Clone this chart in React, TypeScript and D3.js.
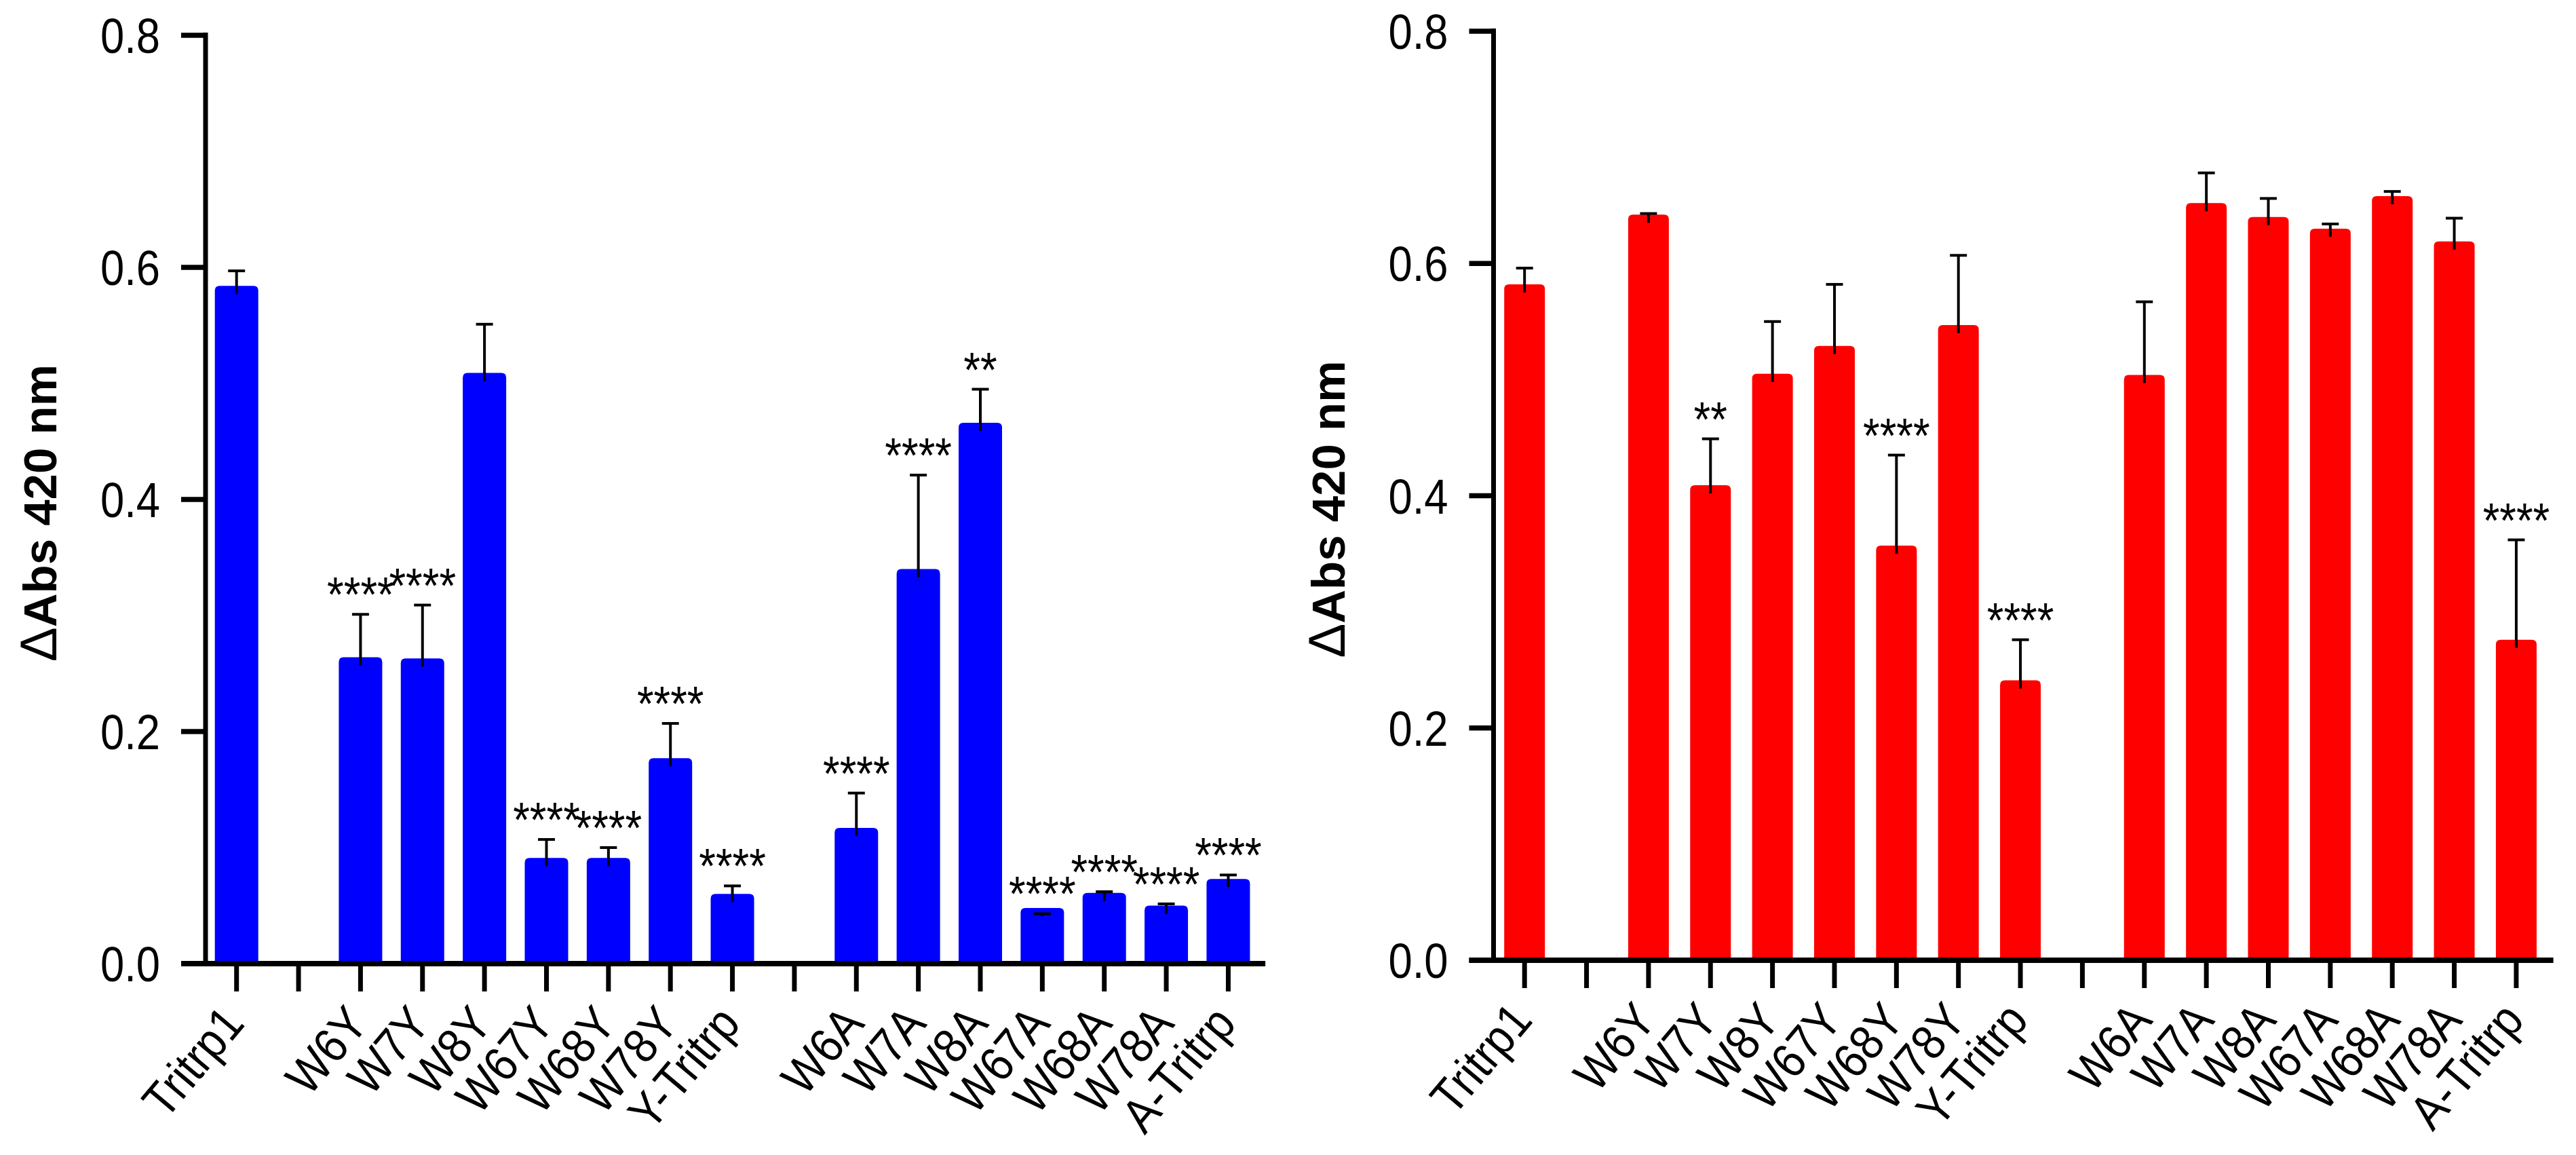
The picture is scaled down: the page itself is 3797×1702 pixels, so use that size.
import React from 'react';
import * as d3 from 'd3';

// categories ('' = empty slot between groups)
const categories = [
    'Tritrp1', '', 'W6Y', 'W7Y', 'W8Y', 'W67Y', 'W68Y', 'W78Y', 'Y-Tritrp',
    '', 'W6A', 'W7A', 'W8A', 'W67A', 'W68A', 'W78A', 'A-Tritrp',
];

// left panel (blue)
const blueMeans = [
    0.577, null, 0.257, 0.256, 0.502, 0.084, 0.084, 0.17, 0.053,
    null, 0.11, 0.333, 0.459, 0.041, 0.054, 0.043, 0.066,
];
const blueErrors = [
    0.02, null, 0.044, 0.053, 0.049, 0.023, 0.016, 0.037, 0.014,
    null, 0.037, 0.088, 0.036, 0.002, 0.008, 0.0085, 0.0104,
];
const blueStars = [
    '', '', '****', '****', '', '****', '****', '****', '****',
    '', '****', '****', '**', '****', '****', '****', '****',
];

// right panel (red)
const redMeans = [
    0.575, null, 0.635, 0.402, 0.498, 0.522, 0.35, 0.54, 0.234,
    null, 0.497, 0.645, 0.633, 0.623, 0.651, 0.612, 0.269,
];
const redErrors = [
    0.021, null, 0.008, 0.047, 0.052, 0.06, 0.085, 0.067, 0.042,
    null, 0.07, 0.033, 0.023, 0.011, 0.011, 0.027, 0.093,
];
const redStars = [
    '', '', '', '**', '', '', '****', '', '****',
    '', '', '', '', '', '', '', '****',
];

const yTicks = [0, 0.2, 0.4, 0.6, 0.8];

const FONT = '"Liberation Sans", Arial, sans-serif';
const SQUEEZE = 0.88; // the figure's text is slightly condensed
const STEP = 91.36;

interface PanelProps {
    axisX: number;
    zeroY: number;
    topY: number;
    color: string;
    barWidth: number;
    means: (number | null)[];
    errors: (number | null)[];
    stars: string[];
}

const topRounded = (x0: number, y0: number, w: number, h: number, r: number) =>
    `M${x0},${y0 + h}V${y0 + r}Q${x0},${y0} ${x0 + r},${y0}H${x0 + w - r}` +
    `Q${x0 + w},${y0} ${x0 + w},${y0 + r}V${y0 + h}Z`;

const Panel: React.FC<PanelProps> = ({
    axisX, zeroY, topY, color, barWidth, means, errors, stars,
}) => {
    const x = d3
        .scaleBand<number>()
        .domain(d3.range(categories.length))
        .range([axisX, axisX + categories.length * STEP])
        .padding(0);
    const y = d3.scaleLinear().domain([0, 0.8]).range([zeroY, topY]);
    const fmt = d3.format('.1f');
    const cx = (i: number) => (x(i) as number) + x.bandwidth() / 2;
    const axisEnd = axisX + categories.length * STEP + 9;

    return (
        <g>
            {/* bars */}
            {means.map((m, i) =>
                m == null ? null : (
                    <path
                        key={'b' + i}
                        d={topRounded(cx(i) - barWidth / 2, y(m) - 12, barWidth, zeroY - y(m) + 12, 7)}
                        fill={color}
                    />
                ),
            )}
            {/* error bars */}
            {means.map((m, i) => {
                if (m == null) return null;
                const e = errors[i] as number;
                const yc = y(m + e);
                return (
                    <g key={'e' + i} stroke="#000" strokeWidth={4}>
                        <line x1={cx(i)} x2={cx(i)} y1={y(m)} y2={yc} />
                        <line x1={cx(i) - 12.5} x2={cx(i) + 12.5} y1={yc} y2={yc} />
                    </g>
                );
            })}
            {/* significance */}
            {means.map((m, i) =>
                m == null || !stars[i] ? null : (
                    <text
                        key={'s' + i}
                        transform={`translate(${cx(i)},${y(m + (errors[i] as number)) - 4}) scale(${SQUEEZE},1)`}
                        textAnchor="middle"
                        fontFamily={FONT}
                        fontSize={72}
                    >
                        {stars[i]}
                    </text>
                ),
            )}
            {/* y axis */}
            <line x1={axisX} x2={axisX} y1={topY - 4} y2={zeroY} stroke="#000" strokeWidth={7} />
            {yTicks.map((t) => (
                <g key={'yt' + t}>
                    <line x1={axisX - 36} x2={axisX} y1={y(t)} y2={y(t)} stroke="#000" strokeWidth={7.5} />
                    <text
                        transform={`translate(${axisX - 67},${y(t) + 26}) scale(${SQUEEZE},1)`}
                        textAnchor="end"
                        fontFamily={FONT}
                        fontSize={72}
                    >
                        {fmt(t)}
                    </text>
                </g>
            ))}
            <text
                transform={`translate(${axisX - 220},${(zeroY + topY) / 2 + 20}) rotate(-90)`}
                textAnchor="middle"
                fontFamily={FONT}
                fontSize={69}
                fontWeight="bold"
            >
                <tspan fontWeight="normal" fontSize={76}>Δ</tspan>Abs 420 nm
            </text>
            {/* x axis */}
            <line x1={axisX - 36} x2={axisEnd} y1={zeroY} y2={zeroY} stroke="#000" strokeWidth={8} />
            {categories.map((c, i) => (
                <g key={'xt' + i}>
                    <line x1={cx(i)} x2={cx(i)} y1={zeroY} y2={zeroY + 41} stroke="#000" strokeWidth={7} />
                    {c && (
                        <text
                            transform={`translate(${cx(i) + 14},${zeroY + 90}) rotate(-50) scale(0.9,1)`}
                            textAnchor="end"
                            fontFamily={FONT}
                            fontSize={72}
                        >
                            {c}
                        </text>
                    )}
                </g>
            ))}
        </g>
    );
};

const App: React.FC = () => (
    <svg
        width={3797}
        height={1702}
        viewBox="0 0 3797 1702"
        style={{ position: 'absolute', left: 0, top: 0, background: '#fff' }}
    >
        <Panel
            axisX={303}
            zeroY={1420}
            topY={52}
            color="#0000ff"
            barWidth={64}
            means={blueMeans}
            errors={blueErrors}
            stars={blueStars}
        />
        <Panel
            axisX={2201.5}
            zeroY={1415}
            topY={46}
            color="#ff0000"
            barWidth={60}
            means={redMeans}
            errors={redErrors}
            stars={redStars}
        />
    </svg>
);

export default App;
